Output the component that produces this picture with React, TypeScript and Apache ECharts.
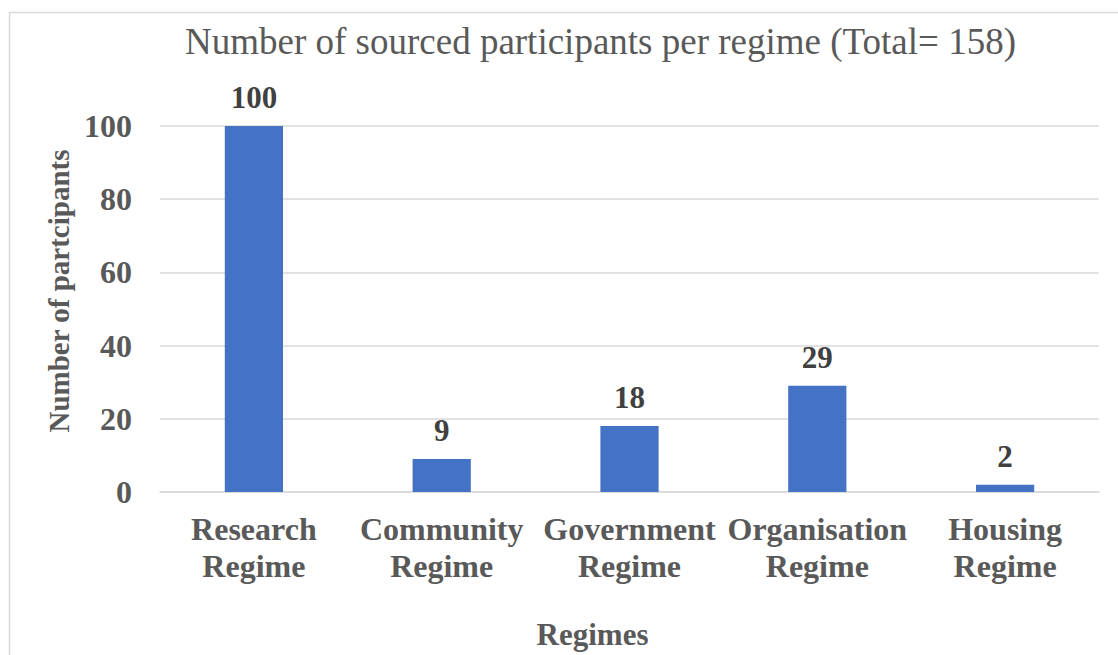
import React, { useEffect, useRef } from "react";
import * as echarts from "echarts";

const categories = [
  "Research\nRegime",
  "Community\nRegime",
  "Government\nRegime",
  "Organisation\nRegime",
  "Housing\nRegime",
];
const participants = [100, 9, 18, 29, 2];
const yTicks = { min: 0, max: 100, interval: 20 };
const titleText = "Number of sourced participants per regime (Total= 158)";
const xName = "Regimes";
const yName = "Number of partcipants";

const FONT = "'Liberation Serif', 'Times New Roman', serif";

export default function App() {
  const ref = useRef<HTMLDivElement>(null);
  useEffect(() => {
    if (!ref.current) return;
    const chart = echarts.init(ref.current, null, { renderer: "svg" });
    chart.setOption({
      animation: false,
      backgroundColor: "#ffffff",
      textStyle: { fontFamily: FONT },
      title: {
        text: titleText,
        left: 180,
        top: 18,
        textStyle: {
          fontFamily: FONT,
          fontSize: 37,
          fontWeight: "normal",
          color: "#595959",
        },
      },
      graphic: [
        {
          type: "rect",
          left: 7,
          top: 10,
          shape: { x: 0, y: 0, width: 1300, height: 800 },
          style: { fill: "none", stroke: "#d9d9d9", lineWidth: 1.5 },
          silent: true,
          z: -1,
        },
      ],
      grid: { left: 160, right: 19, top: 126, bottom: 162, containLabel: false },
      xAxis: {
        type: "category",
        data: categories,
        name: xName,
        nameLocation: "middle",
        nameGap: 127,
        nameTextStyle: {
          fontFamily: FONT,
          fontSize: 31,
          fontWeight: "bold",
          color: "#595959",
          padding: [0, 74, 0, 0],
        },
        axisLine: { lineStyle: { color: "#d9d9d9", width: 1.5 } },
        axisTick: { show: false },
        axisLabel: {
          fontFamily: FONT,
          fontSize: 32,
          fontWeight: "bold",
          color: "#595959",
          lineHeight: 37,
          margin: 18,
          interval: 0,
        },
      },
      yAxis: {
        type: "value",
        min: yTicks.min,
        max: yTicks.max,
        interval: yTicks.interval,
        name: yName,
        nameLocation: "middle",
        nameGap: 84,
        nameTextStyle: {
          fontFamily: FONT,
          fontSize: 29,
          fontWeight: "bold",
          color: "#595959",
          padding: [0, 0, 0, 36],
        },
        axisLine: { show: false },
        axisTick: { show: false },
        splitLine: { lineStyle: { color: "#d9d9d9", width: 1.5 } },
        axisLabel: {
          fontFamily: FONT,
          fontSize: 32,
          fontWeight: "bold",
          color: "#595959",
          margin: 28,
        },
      },
      series: [
        {
          type: "bar",
          data: participants,
          barWidth: "31%",
          itemStyle: { color: "#4472C4" },
          label: {
            show: true,
            position: "top",
            distance: 13,
            fontFamily: FONT,
            fontSize: 31,
            fontWeight: "bold",
            color: "#404040",
          },
        },
      ],
    });
    return () => chart.dispose();
  }, []);
  return (
    <div
      ref={ref}
      style={{ position: "fixed", left: 0, top: 0, width: 1118, height: 655 }}
    />
  );
}
